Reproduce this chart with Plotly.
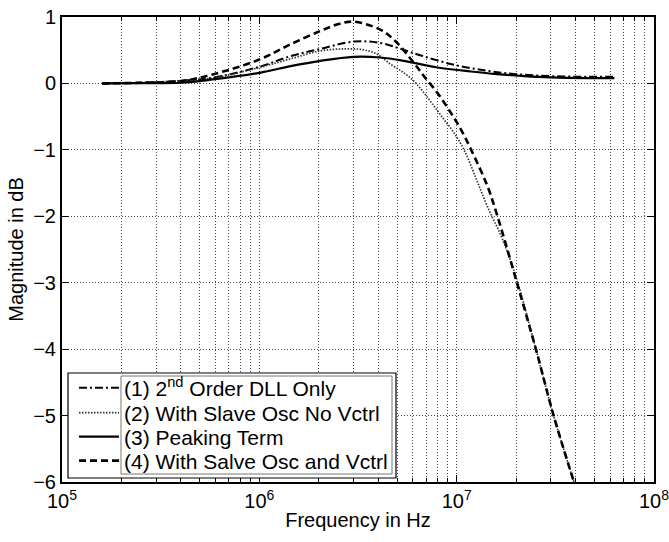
import plotly.graph_objects as go

# ---- data ----
f1 = [1.6e5, 2.5e5, 4e5, 5.8e5, 1e6, 1.44e6, 2.04e6, 3.0e6, 4.1e6, 5.2e6, 6.6e6, 9.7e6, 1.43e7, 2.0e7, 3.0e7, 4.5e7, 6.3e7]
m1 = [0, 0.01, 0.04, 0.086, 0.25, 0.41, 0.52, 0.63, 0.61, 0.52, 0.42, 0.28, 0.19, 0.14, 0.11, 0.10, 0.10]

f2 = [1.6e5, 2.5e5, 4e5, 5.8e5, 1e6, 1.44e6, 2.04e6, 2.7e6, 3.3e6, 3.9e6, 4.62e6, 5.4e6, 6.07e6, 6.82e6, 7.67e6, 8.61e6, 9.68e6, 1.09e7, 1.25e7, 1.43e7, 1.71e7, 2.04e7, 2.52e7, 3.1e7, 3.93e7]
m2 = [0, 0.01, 0.04, 0.08, 0.24, 0.37, 0.49, 0.52, 0.51, 0.45, 0.29, 0.16, 0.035, -0.14, -0.34, -0.54, -0.74, -1.0, -1.42, -1.85, -2.35, -3.0, -4.0, -5.0, -6.0]

f3 = [1.6e5, 2.5e5, 4e5, 5.8e5, 1e6, 1.44e6, 2.04e6, 3.0e6, 4.1e6, 5.4e6, 8.0e6, 1.18e7, 1.6e7, 2.2e7, 3.0e7, 4.5e7, 6.3e7]
m3 = [0, 0.005, 0.01, 0.06, 0.16, 0.26, 0.34, 0.40, 0.39, 0.34, 0.24, 0.18, 0.14, 0.11, 0.09, 0.08, 0.08]

f4 = [1.6e5, 2.5e5, 4e5, 5.8e5, 1e6, 1.44e6, 2.04e6, 2.5e6, 3.0e6, 4.1e6, 4.8e6, 6.07e6, 6.82e6, 7.98e6, 9.33e6, 1.05e7, 1.18e7, 1.43e7, 1.61e7, 2.02e7, 2.52e7, 3.1e7, 3.93e7]
m4 = [0, 0.01, 0.035, 0.135, 0.36, 0.59, 0.79, 0.89, 0.93, 0.81, 0.66, 0.31, 0.11, -0.14, -0.44, -0.69, -0.99, -1.54, -2.0, -3.0, -4.0, -5.0, -6.0]

names = ["(1) 2<sup>nd</sup> Order DLL Only",
         "(2) With Slave Osc No Vctrl",
         "(3) Peaking Term",
         "(4) With Salve Osc and Vctrl"]

major_ticks = [1e5, 1e6, 1e7, 1e8]
major_text = ["10<sup>5</sup>", "10<sup>6</sup>", "10<sup>7</sup>", "10<sup>8</sup>"]
minor_ticks = [m * 10 ** e for e in (5, 6, 7) for m in range(2, 10)]
y_ticks = [1, 0, -1, -2, -3, -4, -5, -6]

FONT = "Liberation Sans, Arial, Helvetica, sans-serif"
FS = 20
LFS = 21

# plot area in pixels: x 62..654, y 17..482
def px(x):
    return (x - 62) / 592.0

def py(y):
    return (482 - y) / 465.0

styles = [
    dict(color="black", width=2, dash="8px,3px,2px,3px"),
    dict(color="#333", width=1.7, dash="1.5px,1.5px"),
    dict(color="black", width=2.2),
    dict(color="black", width=2.6, dash="7px,4px"),
]
xs = [f1, f2, f3, f4]
ys = [m1, m2, m3, m4]
legend_ids = ["legend", "legend2", "legend3", "legend4"]
row_centers = [388, 413, 437, 461]

fig = go.Figure()
for i in range(4):
    fig.add_trace(go.Scatter(x=xs[i], y=ys[i], name=names[i], mode="lines",
                             line_shape="spline", line=styles[i],
                             legend=legend_ids[i]))

shapes = [
    dict(type="rect", xref="paper", yref="paper", layer="above",
         x0=px(68), x1=px(396), y0=py(478), y1=py(373),
         fillcolor="white", line=dict(color="black", width=1.2)),
    dict(type="rect", xref="paper", yref="paper", layer="above",
         x0=px(121), x1=px(392), y0=py(474), y1=py(376),
         fillcolor="rgba(0,0,0,0)", line=dict(color="#777", width=1)),
]

legend_layout = {}
for i, lid in enumerate(legend_ids):
    legend_layout[lid] = dict(x=px(74), y=py(row_centers[i]), xanchor="left", yanchor="middle",
                              bgcolor="rgba(0,0,0,0)", borderwidth=0,
                              font=dict(size=LFS, family=FONT), itemwidth=40)

fig.update_layout(
    width=669, height=542,
    margin=dict(l=62, r=15, t=17, b=60),
    paper_bgcolor="white", plot_bgcolor="white",
    font=dict(family=FONT, size=FS, color="black"),
    showlegend=True,
    shapes=shapes,
    **legend_layout,
)
fig.update_xaxes(
    type="log", range=[5, 8], automargin=False, ticklabeloverflow="allow",
    tickmode="array", tickvals=major_ticks, ticktext=major_text,
    ticks="inside", ticklen=7, tickwidth=1, tickcolor="black",
    showline=True, linecolor="black", linewidth=2, mirror="ticks",
    showgrid=True, gridcolor="#444", gridwidth=1, griddash="1px,2px",
    minor=dict(tickvals=minor_ticks, ticks="inside", ticklen=4, tickcolor="black",
               showgrid=True, gridcolor="#444", gridwidth=1, griddash="1px,2px"),
    title=dict(text="Frequency in Hz", font=dict(size=FS), standoff=2),
    tickfont=dict(size=FS), zeroline=False,
)
fig.update_yaxes(
    range=[-6, 1], automargin=False, ticklabeloverflow="allow",
    tickmode="array", tickvals=y_ticks,
    ticks="inside", ticklen=7, tickwidth=1, tickcolor="black",
    showline=True, linecolor="black", linewidth=2, mirror="ticks",
    showgrid=True, gridcolor="#444", gridwidth=1, griddash="1px,2px",
    zeroline=False,
    title=dict(text="Magnitude in dB", font=dict(size=FS), standoff=4),
    tickfont=dict(size=FS),
)

fig.write_html("out.html")
